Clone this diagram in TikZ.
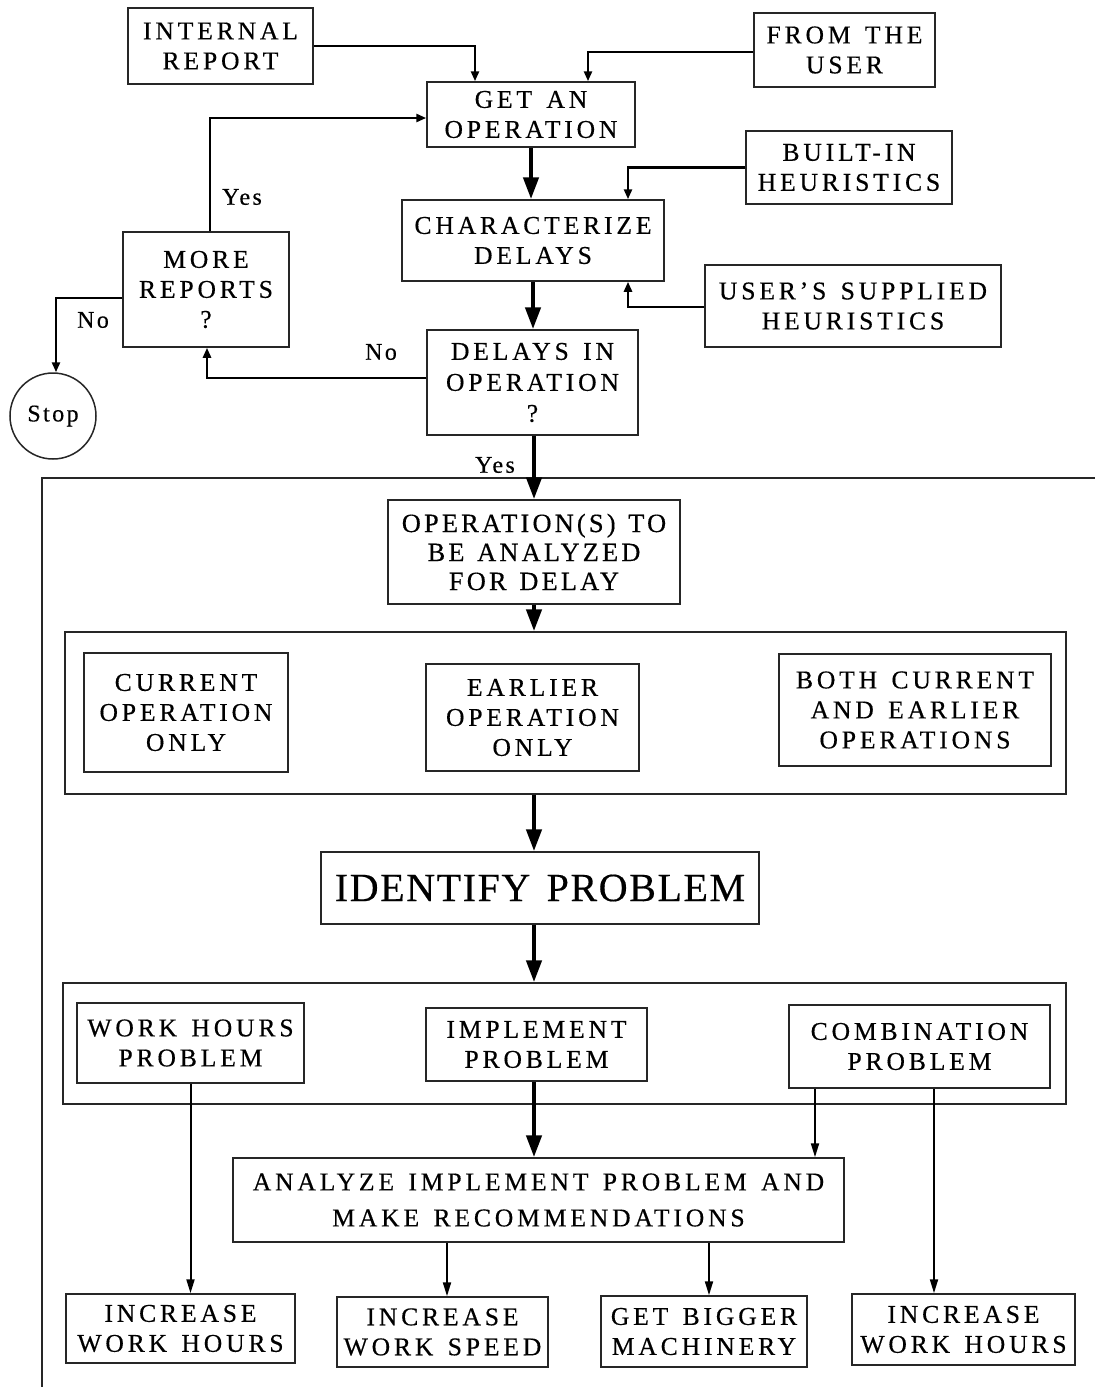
\documentclass[tikz,border=0pt]{standalone}
\usepackage{fontspec}
\setmainfont{Liberation Serif}[FakeBold=0.4]
\newfontfamily\boxfam{Liberation Serif}[LetterSpace=15,WordSpace=1.4,FakeBold=0.4]
\newfontfamily\opfam{Liberation Serif}[LetterSpace=12,WordSpace=1.3,FakeBold=0.4]
\newfontfamily\bigfam{Liberation Serif}[LetterSpace=4,WordSpace=1.4,FakeBold=0.4]
\newfontfamily\labfam{Liberation Serif}[LetterSpace=10,FakeBold=0.4]
\usetikzlibrary{arrows.meta,calc}
\newcommand\boxfont{\boxfam\fontsize{12.8}{15}\selectfont}
\newcommand\anafont{\boxfam\fontsize{12.8}{18}\selectfont}
\newcommand\delfont{\boxfam\fontsize{12.8}{15.5}\selectfont}
\newcommand\opfont{\opfam\fontsize{13.2}{14.5}\selectfont}
\newcommand\bigfont{\bigfam\fontsize{20}{24}\selectfont}
\newcommand\labfont{\labfam\fontsize{12}{14}\selectfont}
\begin{document}
\begin{tikzpicture}[x=0.5pt,y=-0.5pt,
  box/.style={draw=black!85, line width=0.75pt, align=center, inner sep=1pt, font=\boxfont},
  frame/.style={draw=black!85, line width=0.75pt, inner sep=0pt},
  lab/.style={font=\labfont, inner sep=0pt},
  flow/.style={line width=2.2pt, -{Triangle[length=11pt,width=7.5pt]}},
  feed/.style={line width=1.4pt, -{Triangle[length=5pt,width=4pt]}},
  leaf/.style={line width=1pt, -{Triangle[length=7pt,width=4pt]}}]
\fill[white] (0,0) rectangle (1095,1387);
\useasboundingbox (0,0) rectangle (1095,1387);

% outer frame (open on right and bottom)
\draw[line width=0.75pt, black!85] (1095,478) -- (42,478) -- (42,1387);

% top part
\node[box, minimum width=92.5pt, minimum height=38pt] (intrep) at (220.5,46) {INTERNAL\\REPORT};
\node[box, minimum width=90.5pt, minimum height=37pt] (user) at (844.5,50) {FROM THE\\USER};
\node[box, minimum width=104pt, minimum height=32.5pt] (get) at (531,114.5) {GET AN\\OPERATION};
\node[box, minimum width=103pt, minimum height=36.5pt] (builtin) at (849,167.5) {BUILT-IN\\HEURISTICS};
\node[box, minimum width=131pt, minimum height=40.5pt] (char) at (533,240.5) {CHARACTERIZE\\DELAYS};
\node[box, minimum width=148pt, minimum height=41pt] (usersup) at (853,306) {USER’S SUPPLIED\\HEURISTICS};
\node[box, minimum width=83pt, minimum height=57.5pt] (more) at (206,289.5) {MORE\\REPORTS\\?};
\node[box, minimum width=105.5pt, minimum height=52.5pt, font=\delfont] (delays) at (532.5,382.5) {DELAYS IN\\OPERATION\\?};
\node[draw=black!85, line width=0.75pt, circle, minimum size=43pt, inner sep=0pt, font=\labfont] (stop) at (53,416) {Stop};

% lower part
\node[box, minimum width=146pt, minimum height=52pt, font=\opfont] (opbox) at (534,552) {OPERATION(S) TO\\BE ANALYZED\\FOR DELAY};
\node[frame, minimum width=500.5pt, minimum height=81pt] (frameA) at (565.5,713) {};
\node[box, minimum width=102pt, minimum height=59.5pt] (current) at (186,712.5) {CURRENT\\OPERATION\\ONLY};
\node[box, minimum width=106.5pt, minimum height=53.5pt] (earlier) at (532.5,717.5) {EARLIER\\OPERATION\\ONLY};
\node[box, minimum width=136pt, minimum height=56pt] (both) at (915,710) {BOTH CURRENT\\AND EARLIER\\OPERATIONS};
\node[box, minimum width=219pt, minimum height=36pt, font=\bigfont] (identify) at (540,888) {IDENTIFY PROBLEM};
\node[frame, minimum width=501.5pt, minimum height=60.5pt] (frameB) at (564.5,1043.5) {};
\node[box, minimum width=113.5pt, minimum height=40pt] (workh) at (190.5,1043) {WORK HOURS\\PROBLEM};
\node[box, minimum width=110.5pt, minimum height=36.5pt] (impl) at (536.5,1044.5) {IMPLEMENT\\PROBLEM};
\node[box, minimum width=130.5pt, minimum height=41.5pt] (comb) at (919.5,1046.5) {COMBINATION\\PROBLEM};
\node[box, minimum width=305.5pt, minimum height=42pt, font=\anafont] (analyze) at (538.5,1200) {ANALYZE IMPLEMENT PROBLEM AND\\MAKE RECOMMENDATIONS};
\node[box, minimum width=114.5pt, minimum height=34.5pt] (inc1) at (180.5,1328.5) {INCREASE\\WORK HOURS};
\node[box, minimum width=105.5pt, minimum height=35pt] (speed) at (442.5,1332) {INCREASE\\WORK SPEED};
\node[box, minimum width=103pt, minimum height=35.5pt] (bigger) at (704,1331.5) {GET BIGGER\\MACHINERY};
\node[box, minimum width=111.5pt, minimum height=35.5pt] (inc2) at (963.5,1329.5) {INCREASE\\WORK HOURS};

% labels
\node[lab] (yes1) at (242,197) {Yes};
\node[lab] (no1) at (93,320) {No};
\node[lab] (no2) at (381,352) {No};
\node[lab] (yes2) at (495,465) {Yes};

% top connectors
\draw[feed] (intrep.east) -| ($(get.north)+(-56,0)$);
\draw[feed] ($(user.west)+(0,2)$) -| ($(get.north)+(57,0)$);
\draw[flow] (get.south) -- (get.south |- char.north);
\draw[feed] (builtin.west) -| ($(char.north)+(95,0)$);
\draw[feed] ($(usersup.west)+(0,1)$) -| ($(char.south)+(95,0)$);
\draw[flow] (char.south) -- (char.south |- delays.north);
\draw[feed] ($(delays.west)+(0,-4.5)$) -| ($(more.south)+(1,0)$);
\draw[feed] ($(more.north)+(4,0)$) |- ($(get.west)+(0,3.5)$);
\draw[feed] ($(more.west)+(0,8.5)$) -| ($(stop.north)+(3,0)$);

% lower connectors
\draw[flow] ($(delays.south)+(1.5,0)$) -- ($(opbox.north)$);
\draw[flow] (opbox.south) -- (opbox.south |- frameA.north);
\draw[flow] (frameA.south -| identify.north) ++(-6,0) -- ($(identify.north)+(-6,0)$);
\draw[flow] ($(identify.south)+(-6,0)$) -- ($(identify.south |- frameB.north)+(-6,0)$);
\draw[leaf] (workh.south) -- (workh.south |- inc1.north);
\draw[flow] ($(impl.south)+(-2.5,0)$) -- ($(impl.south |- analyze.north)+(-2.5,0)$);
\draw[leaf] ($(comb.south)+(-104.5,0)$) -- ($(comb.south |- analyze.north)+(-104.5,0)$);
\draw[leaf] ($(comb.south)+(14.5,0)$) -- ($(comb.south |- inc2.north)+(14.5,0)$);
\draw[leaf] ($(analyze.south)+(-91.5,0)$) -- ($(analyze.south |- speed.north)+(-91.5,0)$);
\draw[leaf] ($(analyze.south)+(170.5,0)$) -- ($(analyze.south |- bigger.north)+(170.5,0)$);
\end{tikzpicture}
\end{document}
